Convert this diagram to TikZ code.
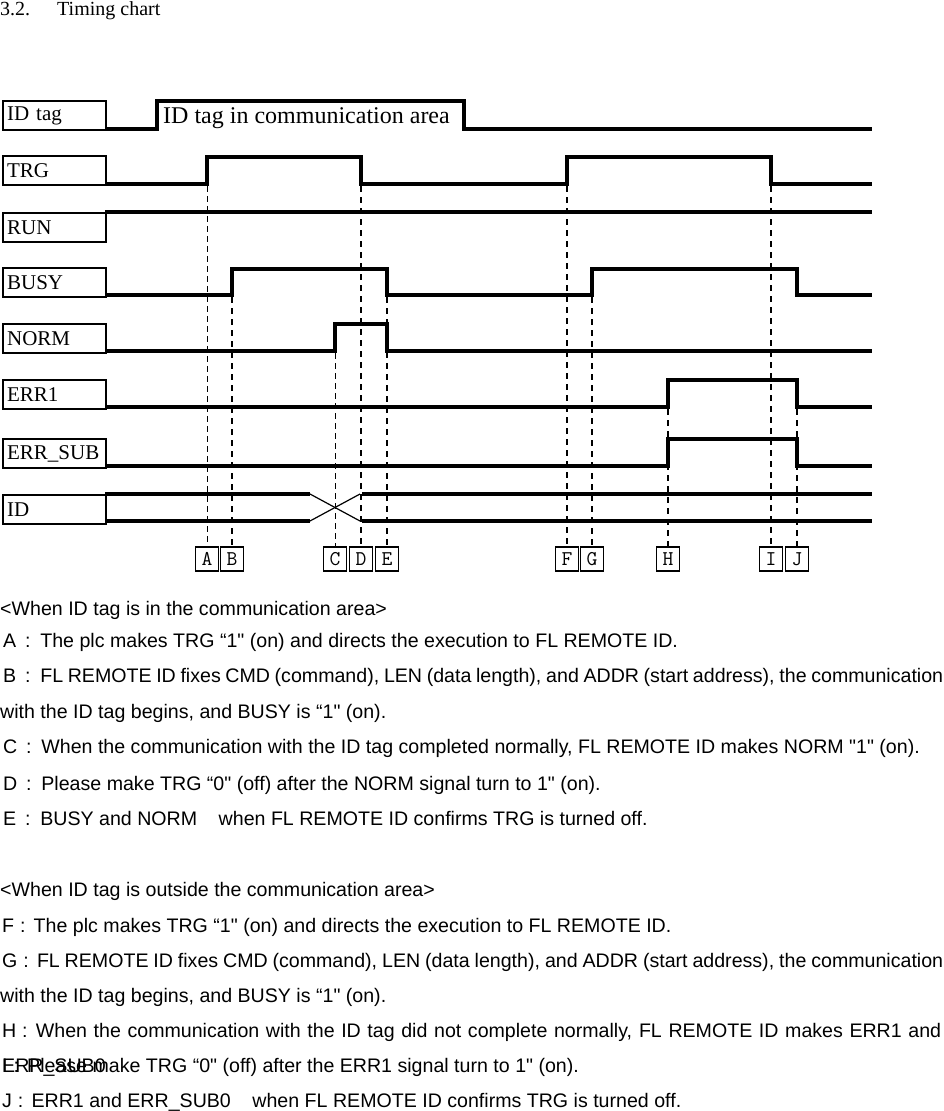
\documentclass[tikz,border=0pt]{standalone}
\usepackage{fontspec}
\setmainfont{Liberation Serif}
\newfontfamily\arial{Liberation Sans}
\begin{document}
\begin{tikzpicture}[x=1pt,y=-1pt,
  lbl/.style={draw, line width=2.2pt, anchor=north west, inner xsep=4pt, inner ysep=0pt,
    text width=95pt, align=left, minimum height=29pt, font=\fontsize{21}{21}\selectfont},
  sig/.style={line width=3.4pt, line join=miter},
  cross/.style={line width=1.2pt},
  thindash/.style={line width=0.9pt, dash pattern=on 6pt off 4pt},
  thickdash/.style={line width=1.9pt, dash pattern=on 6pt off 5pt},
  letterbox/.style={draw, line width=1.6pt, minimum width=23pt, minimum height=24pt, inner sep=0pt,
    font=\ttfamily\fontsize{21}{21}\selectfont},
  body/.style={anchor=base west, inner sep=0pt, font=\arial\fontsize{19.6}{19.6}\selectfont},
  ttl/.style={anchor=base west, inner sep=0pt, font=\fontsize{20}{20}\selectfont}
]
\useasboundingbox (0,0) rectangle (943,1111);

% title
\node[ttl] (num) at (0,15) {3.2.};
\node[ttl] (title) at (57,15) {Timing chart};

% signal label boxes
\node[lbl] (lidtag) at (2,100) {ID tag};
\node[lbl] (ltrg) at (2,155) {TRG};
\node[lbl] (lrun) at (2,212) {RUN};
\node[lbl] (lbusy) at (2,267) {BUSY};
\node[lbl] (lnorm) at (2,323) {NORM};
\node[lbl] (lerr) at (2,379) {ERR1};
\node[lbl] (lsub) at (2,438) {ERR\_SUB};
\node[lbl] (lid) at (2,494) {ID};

% header text
\node[anchor=base west, inner sep=0pt, font=\fontsize{24}{24}\selectfont] (area) at (163,123) {ID tag in communication area};

% signals
\draw[sig] (105,129) -- (157,129) -- (157,101) -- (464,101) -- (464,129) -- (872,129);
\draw[sig] (105,184) -- (207,184) -- (207,157) -- (361,157) -- (361,184) -- (567,184) -- (567,157) -- (771,157) -- (771,184) -- (872,184);
\draw[sig] (105,212) -- (872,212);
\draw[sig] (105,295) -- (232,295) -- (232,269) -- (387,269) -- (387,295) -- (592,295) -- (592,269) -- (797,269) -- (797,295) -- (872,295);
\draw[sig] (105,351) -- (335,351) -- (335,324) -- (387,324) -- (387,351) -- (872,351);
\draw[sig] (105,407) -- (668,407) -- (668,380) -- (797,380) -- (797,407) -- (872,407);
\draw[sig] (105,466) -- (668,466) -- (668,439) -- (797,439) -- (797,466) -- (872,466);
\draw[sig] (105,494) -- (310,494);
\draw[sig] (105,521) -- (310,521);
\draw[sig] (362,494) -- (872,494);
\draw[sig] (362,521) -- (872,521);
\draw[cross] (310,494) -- (360,521);
\draw[cross] (310,521) -- (360,494);

% event letter boxes
\node[letterbox] (A) at (207,559) {A};
\node[letterbox] (B) at (232,559) {B};
\node[letterbox] (C) at (335,559) {C};
\node[letterbox] (D) at (361,559) {D};
\node[letterbox] (E) at (387,559) {E};
\node[letterbox] (F) at (567,559) {F};
\node[letterbox] (G) at (592,559) {G};
\node[letterbox] (H) at (668,559) {H};
\node[letterbox] (I) at (771,559) {I};
\node[letterbox] (J) at (797,559) {J};

% dashed guide lines
\draw[thindash] (207,186) -- (A.north);
\draw[thickdash] (232,297) -- (B.north);
\draw[thindash] (335,353) -- (C.north);
\draw[thickdash] (361,186) -- (D.north);
\draw[thickdash] (387,297) -- (E.north);
\draw[thickdash] (567,186) -- (F.north);
\draw[thickdash] (592,297) -- (G.north);
\draw[thickdash] (668,409) -- (H.north);
\draw[thickdash] (771,186) -- (I.north);
\draw[thickdash] (797,409) -- (J.north);

% description text
\node[body] (p1) at (0,615) {<When ID tag is in the communication area>};
\node[body] (ta) at (3,647) {A\hspace{0.45em}:\hspace{0.5em}The plc makes TRG “1" (on) and directs the execution to FL REMOTE ID.};
\node[body] (tb) at (3,682) {\makebox[940pt][s]{B\hspace{0.45em}:\hspace{0.5em}FL REMOTE ID fixes CMD (command), LEN (data length), and ADDR (start address), the communication}};
\node[body] (tb2) at (0,718) {with the ID tag begins, and BUSY is “1" (on).};
\node[body] (tc) at (3,753) {C\hspace{0.45em}:\hspace{0.5em}When the communication with the ID tag completed normally, FL REMOTE ID makes NORM "1" (on).};
\node[body] (td) at (3,790) {D\hspace{0.45em}:\hspace{0.5em}Please make TRG “0" (off) after the NORM signal turn to 1" (on).};
\node[body] (te) at (3,825) {E\hspace{0.45em}:\hspace{0.5em}BUSY and NORM\hspace{1.1em}when FL REMOTE ID confirms TRG is turned off.};

\node[body] (p2) at (0,896) {<When ID tag is outside the communication area>};
\node[body] (tf) at (2,932) {F\hspace{0.3em}:\hspace{0.42em}The plc makes TRG “1" (on) and directs the execution to FL REMOTE ID.};
\node[body] (tg) at (2,967) {\makebox[941pt][s]{G\hspace{0.3em}:\hspace{0.42em}FL REMOTE ID fixes CMD (command), LEN (data length), and ADDR (start address), the communication}};
\node[body] (tg2) at (0,1002) {with the ID tag begins, and BUSY is “1" (on).};
\node[body] (th) at (2,1037) {\makebox[939pt][s]{H\hspace{0.3em}:\hspace{0.42em}When the communication with the ID tag did not complete normally, FL REMOTE ID makes ERR1 and}};
\node[body] (th2) at (2,1072) {ERR\_SUB0};
\node[body] (ti) at (2,1072) {I\hspace{0.3em}:\hspace{0.42em}Please make TRG “0" (off) after the ERR1 signal turn to 1" (on).};
\node[body] (tj) at (2,1107) {J\hspace{0.3em}:\hspace{0.42em}ERR1 and ERR\_SUB0\hspace{1.1em}when FL REMOTE ID confirms TRG is turned off.};
\end{tikzpicture}
\end{document}
